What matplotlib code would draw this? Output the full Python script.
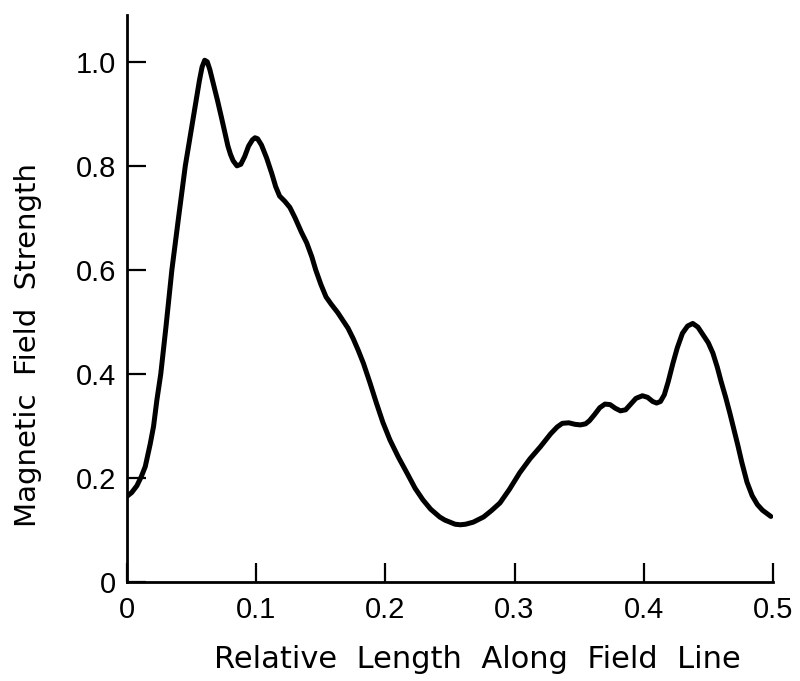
import matplotlib.pyplot as plt
import numpy as np

plt.rcParams['font.family'] = ['Liberation Sans', 'DejaVu Sans']

# points (relative length, field strength)
rel_len = [0.0, 0.0035, 0.0075, 0.011, 0.014, 0.0178, 0.0204, 0.023, 0.026, 0.030,
           0.0346, 0.040, 0.045, 0.048, 0.050, 0.052, 0.054, 0.056, 0.058, 0.060,
           0.062, 0.064, 0.067, 0.070, 0.073, 0.076, 0.078, 0.080, 0.082, 0.085,
           0.088, 0.091, 0.094, 0.097, 0.099, 0.101, 0.104, 0.108, 0.112, 0.115,
           0.118, 0.122, 0.126, 0.130, 0.135, 0.139, 0.143, 0.146, 0.150, 0.154,
           0.158, 0.163, 0.167, 0.171, 0.175, 0.179, 0.183, 0.188, 0.193, 0.198,
           0.2035, 0.210, 0.217, 0.223, 0.229, 0.235, 0.242, 0.246, 0.250, 0.254,
           0.258, 0.262, 0.268, 0.276, 0.282, 0.2887, 0.296, 0.304, 0.312, 0.320,
           0.328, 0.333, 0.337, 0.342, 0.347, 0.351, 0.355, 0.358, 0.362, 0.366,
           0.370, 0.374, 0.378, 0.382, 0.386, 0.390, 0.394, 0.399, 0.403, 0.407,
           0.410, 0.413, 0.416, 0.419, 0.4226, 0.426, 0.430, 0.434, 0.438, 0.442,
           0.446, 0.450, 0.4536, 0.457, 0.460, 0.4635, 0.4667, 0.470, 0.473, 0.476,
           0.480, 0.484, 0.488, 0.492, 0.4985]
field = [0.165, 0.172, 0.185, 0.203, 0.222, 0.265, 0.299, 0.35, 0.40, 0.49,
         0.60, 0.705, 0.80, 0.845, 0.875, 0.905, 0.935, 0.965, 0.99, 1.003,
         1.000, 0.985, 0.955, 0.925, 0.893, 0.860, 0.838, 0.822, 0.810, 0.800,
         0.803, 0.818, 0.838, 0.850, 0.854, 0.852, 0.840, 0.815, 0.785, 0.760,
         0.742, 0.732, 0.720, 0.700, 0.672, 0.652, 0.625, 0.600, 0.572, 0.548,
         0.534, 0.518, 0.503, 0.488, 0.468, 0.445, 0.420, 0.383, 0.344, 0.307,
         0.273, 0.240, 0.208, 0.180, 0.158, 0.140, 0.125, 0.119, 0.115, 0.111,
         0.110, 0.111, 0.115, 0.125, 0.137, 0.152, 0.178, 0.210, 0.237, 0.260,
         0.285, 0.298, 0.305, 0.306, 0.303, 0.302, 0.304, 0.310, 0.322, 0.335,
         0.342, 0.341, 0.334, 0.329, 0.331, 0.342, 0.353, 0.358, 0.355, 0.347,
         0.344, 0.347, 0.360, 0.385, 0.420, 0.450, 0.478, 0.492, 0.497, 0.490,
         0.475, 0.460, 0.440, 0.413, 0.385, 0.355, 0.325, 0.292, 0.262, 0.230,
         0.192, 0.166, 0.149, 0.138, 0.126]

xticks = [0, 0.1, 0.2, 0.3, 0.4, 0.5]
xticklabels = ['0', '0.1', '0.2', '0.3', '0.4', '0.5']
yticks = [0, 0.2, 0.4, 0.6, 0.8, 1.0]
yticklabels = ['0', '0.2', '0.4', '0.6', '0.8', '1.0']

fig = plt.figure(figsize=(8, 6.81), dpi=100)
ax = fig.add_axes([0.159, 0.1454, 0.807, 0.8326])

ax.plot(rel_len, field, color='black', lw=3.6, solid_capstyle='round', solid_joinstyle='round')

ax.set_xlim(0, 0.5)
ax.set_ylim(0, 1.09)
ax.spines['top'].set_visible(False)
ax.spines['right'].set_visible(False)
ax.spines['left'].set_linewidth(2.0)
ax.spines['bottom'].set_linewidth(2.0)

ax.set_xticks(xticks)
ax.set_xticklabels(xticklabels)
ax.set_yticks(yticks)
ax.set_yticklabels(yticklabels)
ax.tick_params(direction='in', length=14, width=1.6, labelsize=21, color='black')
ax.tick_params(axis='x', pad=10)
ax.tick_params(axis='y', pad=8)

ax.set_xlabel('Relative  Length  Along  Field  Line', fontsize=22, family='DejaVu Sans')
ax.xaxis.set_label_coords(0.543, -0.111)
ax.set_ylabel('Magnetic  Field  Strength', fontsize=21, family='DejaVu Sans')
ax.yaxis.set_label_coords(-0.1316, 0.418)

fig.savefig('out.png', dpi=100, facecolor='white')
